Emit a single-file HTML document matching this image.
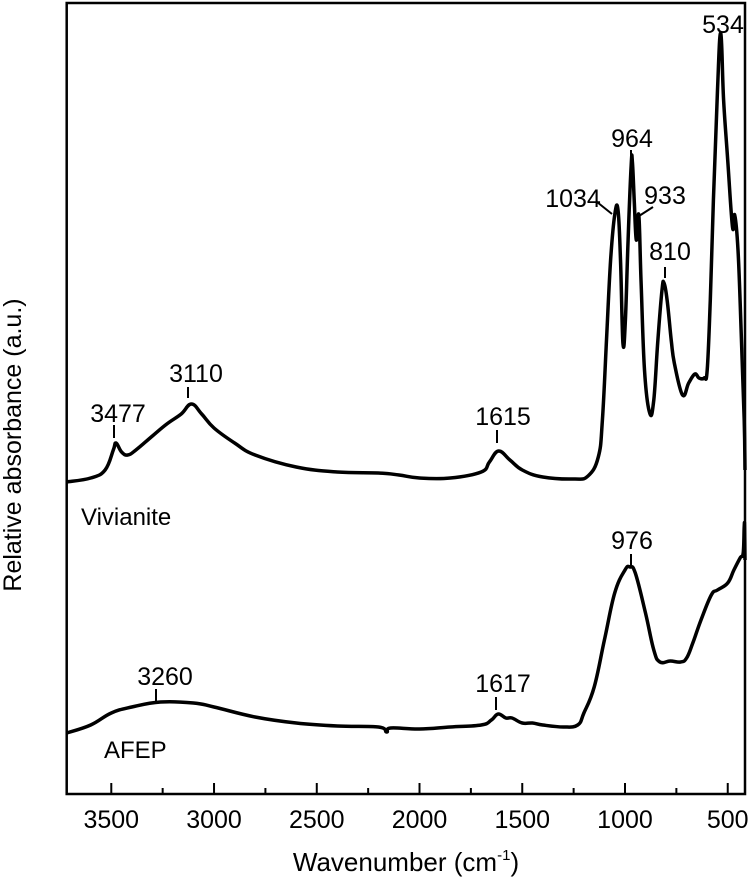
<!DOCTYPE html>
<html><head><meta charset="utf-8"><style>
html,body{margin:0;padding:0;background:#fff;}
svg{display:block;font-family:"Liberation Sans",Arial,sans-serif;}
text{fill:#000;}
</style></head><body>
<svg id="chart" width="750" height="880" viewBox="0 0 750 880">
<g id="plot"></g>
<g font-size="25" text-anchor="middle">
<text x="723" y="33">534</text>
<text x="632" y="147">964</text>
<line x1="631" y1="150" x2="631" y2="156" stroke="#000" stroke-width="2"/>
<text x="573" y="207">1034</text>
<line x1="597" y1="202" x2="612" y2="214" stroke="#000" stroke-width="2"/>
<text x="665" y="204">933</text>
<line x1="653" y1="207" x2="639" y2="216" stroke="#000" stroke-width="2"/>
<text x="670" y="260">810</text>
<line x1="665" y1="267" x2="665" y2="278" stroke="#000" stroke-width="2"/>
<text x="503" y="425">1615</text>
<line x1="497" y1="430" x2="497" y2="443" stroke="#000" stroke-width="2"/>
<text x="632" y="549">976</text>
<line x1="631" y1="554" x2="631" y2="566" stroke="#000" stroke-width="2"/>
<text x="503" y="692">1617</text>
<line x1="496" y1="697" x2="496" y2="710" stroke="#000" stroke-width="2"/>
<text x="196" y="382">3110</text>
<line x1="188" y1="387" x2="188" y2="398" stroke="#000" stroke-width="2"/>
<text x="118" y="422">3477</text>
<line x1="114" y1="425" x2="114" y2="438" stroke="#000" stroke-width="2"/>
<text x="165" y="685">3260</text>
<line x1="156" y1="689" x2="156" y2="701" stroke="#000" stroke-width="2"/>
</g>
<text x="81" y="525" font-size="24">Vivianite</text>
<text x="104" y="758" font-size="24">AFEP</text>
<text transform="translate(21,445) rotate(-90)" text-anchor="middle" font-size="25">Relative absorbance (a.u.)</text>
<text x="406" y="871" text-anchor="middle" font-size="26">Wavenumber (cm<tspan font-size="15" dy="-11">-1</tspan><tspan dy="11">)</tspan></text>
</svg>
<script>
const xTicks = [3500, 3000, 2500, 2000, 1500, 1000, 500];
const xMinorTicks = [3250, 2750, 2250, 1750, 1250, 750];
const vivWave = [3717,3600,3530,3490,3477,3450,3420,3380,3300,3230,3160,3110,3060,3000,2900,2800,2600,2400,2200,2100,2000,1850,1700,1660,1615,1560,1500,1400,1250,1180,1130,1110,1090,1070,1050,1034,1022,1010,998,985,970,964,955,945,933,922,905,880,860,840,820,810,795,775,760,720,690,660,640,615,600,585,570,550,534,520,500,477,466,450,435,420,416];
const vivAbs = [3.12,3.16,3.24,3.44,3.51,3.42,3.39,3.44,3.58,3.70,3.80,3.90,3.80,3.66,3.51,3.39,3.27,3.22,3.21,3.19,3.16,3.16,3.22,3.32,3.43,3.34,3.24,3.17,3.15,3.18,3.37,3.74,4.54,5.34,5.79,5.84,5.34,4.51,4.74,5.54,6.29,6.32,5.94,5.54,5.79,5.14,4.24,3.81,3.94,4.54,5.04,5.11,4.94,4.54,4.31,3.99,4.11,4.20,4.16,4.16,4.24,4.94,5.94,7.04,7.61,6.94,6.34,5.67,5.79,5.44,4.64,3.74,3.24];
const afepWave = [3717,3600,3500,3400,3260,3100,3000,2800,2600,2400,2200,2160,2140,2000,1850,1700,1650,1617,1580,1550,1500,1450,1400,1300,1230,1200,1150,1100,1050,1000,976,950,900,860,830,780,730,700,670,630,580,550,500,470,440,425,420,418,416];
const afepAbs = [0.61,0.69,0.81,0.87,0.92,0.91,0.87,0.77,0.71,0.68,0.67,0.62,0.66,0.65,0.67,0.69,0.74,0.80,0.76,0.76,0.71,0.71,0.69,0.67,0.69,0.81,1.07,1.54,2.01,2.24,2.27,2.21,1.81,1.44,1.32,1.33,1.32,1.36,1.51,1.74,1.99,2.04,2.11,2.24,2.36,2.41,2.67,2.67,2.34];

const L = 66.7, R = 745, T = 3, B = 794;
const W0 = 3717, W1 = 416;
function xs(w){ return L + (W0 - w) / (W0 - W1) * (R - L); }
function ys(a){ return B - a * 100; }
const NS = 'http://www.w3.org/2000/svg';
const plot = document.getElementById('plot');

function pathFrom(wv, ab){
  const p = wv.map((w,i)=>[xs(w), ys(ab[i])]);
  let d = 'M' + p[0][0].toFixed(1) + ',' + p[0][1].toFixed(1);
  for (let i=0;i<p.length-1;i++){
    const p0=p[Math.max(0,i-1)], p1=p[i], p2=p[i+1], p3=p[Math.min(p.length-1,i+2)];
    const t=0.2;
    const c1=[p1[0]+(p2[0]-p0[0])*t, p1[1]+(p2[1]-p0[1])*t];
    const c2=[p2[0]-(p3[0]-p1[0])*t, p2[1]-(p3[1]-p1[1])*t];
    d += 'C'+c1[0].toFixed(1)+','+c1[1].toFixed(1)+' '+c2[0].toFixed(1)+','+c2[1].toFixed(1)+' '+p2[0].toFixed(1)+','+p2[1].toFixed(1);
  }
  return d;
}
function addSeries(wv, ab, name){
  const el = document.createElementNS(NS,'path');
  el.setAttribute('d', pathFrom(wv, ab));
  el.setAttribute('fill','none');
  el.setAttribute('stroke','#000');
  el.setAttribute('stroke-width','3.5');
  el.setAttribute('stroke-linejoin','round');
  
  
  plot.appendChild(el);
}
addSeries(vivWave, vivAbs, 'vivianite-spectrum-line');
addSeries(afepWave, afepAbs, 'afep-spectrum-line');

const frame = document.createElementNS(NS,'rect');
frame.setAttribute('x', L); frame.setAttribute('y', T);
frame.setAttribute('width', R-L); frame.setAttribute('height', B-T);
frame.setAttribute('fill','none'); frame.setAttribute('stroke','#000'); frame.setAttribute('stroke-width','2.5');


plot.appendChild(frame);

xTicks.forEach(w=>{
  const t = document.createElementNS(NS,'line');
  t.setAttribute('x1', xs(w)); t.setAttribute('x2', xs(w));
  t.setAttribute('y1', B); t.setAttribute('y2', B-11);
  t.setAttribute('stroke','#000'); t.setAttribute('stroke-width','2');
  
  
  plot.appendChild(t);
  const lb = document.createElementNS(NS,'text');
  lb.setAttribute('x', xs(w)); lb.setAttribute('y', 828);
  lb.setAttribute('text-anchor','middle'); lb.setAttribute('font-size','25');
  lb.textContent = String(w);
  
  
  plot.appendChild(lb);
});
xMinorTicks.forEach(w=>{
  const t = document.createElementNS(NS,'line');
  t.setAttribute('x1', xs(w)); t.setAttribute('x2', xs(w));
  t.setAttribute('y1', B); t.setAttribute('y2', B-6);
  t.setAttribute('stroke','#000'); t.setAttribute('stroke-width','2');
  
  
  plot.appendChild(t);
});
</script>
</body></html>
